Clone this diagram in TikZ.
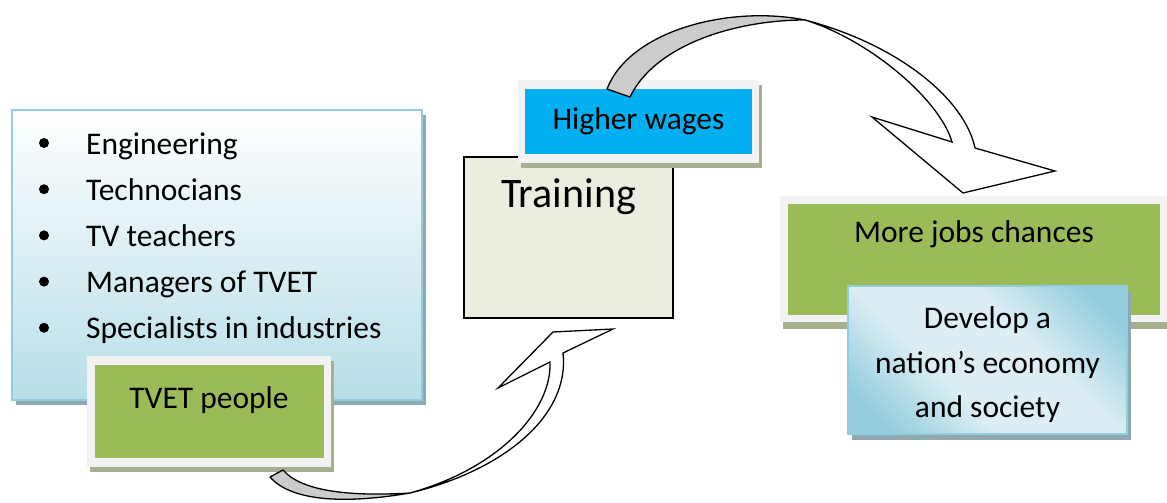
\documentclass[tikz,border=0pt]{standalone}
\usepackage{fontspec}
\setmainfont{Carlito}
\usetikzlibrary{positioning}
\usetikzlibrary{calc}
\usetikzlibrary{shadows}

\definecolor{listborder}{HTML}{93CDDD}
\definecolor{listbottom}{HTML}{B7DEE8}
\definecolor{listshadow}{HTML}{8FA9B2}
\definecolor{olivegreen}{HTML}{9BBB59}
\definecolor{framegray}{HTML}{F2F2F2}
\definecolor{oliveshadow}{HTML}{A6AF90}
\definecolor{wageblue}{HTML}{00B0F0}
\definecolor{trainfill}{HTML}{EBEEDE}
\definecolor{devdark}{HTML}{93CDDD}
\definecolor{devlight}{HTML}{DCEEF4}
\definecolor{arrowgray}{HTML}{CCCCCC}

\pgfdeclarehorizontalshading{devshade}{100bp}{color(0bp)=(devdark); color(22bp)=(devdark); color(40bp)=(devlight); color(60bp)=(devlight); color(78bp)=(devdark); color(100bp)=(devdark)}

\tikzset{
    % Plain text everywhere, no padding round it
    every node/.style={font=\fontsize{31.5}{46}\selectfont, inner sep=0},
%
    % The pale blue panel holding the list
    list box/.style={
        draw=listborder, line width=2pt, top color=white, bottom color=listbottom,
        drop shadow={shadow xshift=4pt, shadow yshift=-5pt, fill=listshadow, opacity=1}},
    list dot/.style={circle, fill=black, minimum size=10},
%
    % Light frame round the coloured boxes
    frame box/.style={
        fill=framegray,
        drop shadow={shadow xshift=3pt, shadow yshift=-5pt, fill=oliveshadow, opacity=1}},
    green box/.style={fill=olivegreen},
    wage box/.style={fill=wageblue},
    train box/.style={draw=black, line width=1.5pt, fill=trainfill},
    develop box/.style={
        draw=listborder, line width=2pt, shading=devshade, shading angle=45,
        drop shadow={shadow xshift=4pt, shadow yshift=-6pt, fill=listshadow, opacity=1}},
%
    % The twisted block arrows
    arrow back/.style={draw=black, line width=1.3pt, fill=arrowgray, line join=round},
    arrow front/.style={draw=black, line width=1.3pt, fill=white, line join=miter}}

\begin{document}
\begin{tikzpicture}[x=1pt, y=-1pt]

\useasboundingbox (0,0) rectangle (1167,503);

% List of people
\node [list box, minimum width=410, minimum height=290] (list) at (217,255) {};

\foreach \entry [count=\i] in {Engineering, Technocians, TV teachers,
        Managers of TVET, Specialists in industries}
{
    \node [anchor=base west] (item\i) at (86, {154+46.2*(\i-1)}) {\entry};
    \node [list dot] (dot\i) at (44, {143+46.2*(\i-1)}) {};
}

\node [frame box, minimum width=244, minimum height=111] (tvet frame) at (209,411.5) {};
\node [green box, minimum width=229, text height=43, text depth=50] (tvet)
    at (tvet frame) {TVET people};

% Training and wages
\node [train box, minimum width=209, text height=50, text depth=111,
    font=\fontsize{42}{50}\selectfont] (training) at (568.5,237.5) {Training};

\node [frame box, minimum width=241, minimum height=83] (wage frame) at (638.5,121.5) {};
\node [wage box, minimum width=227, text height=40, text depth=25] (wages)
    at (wage frame) {Higher wages};

% Outcomes
\node [frame box, minimum width=388, minimum height=126,
    drop shadow={shadow xshift=3pt, shadow yshift=-7pt, fill=oliveshadow, opacity=1}]
    (jobs frame) at (974,259) {};
\node [green box, minimum width=372, text height=39, text depth=72] (jobs)
    at (jobs frame) {More jobs chances};

\node [develop box, minimum width=279, minimum height=148] (develop) at (987.5,360) {};
\node [align=center, font=\fontsize{31.5}{44.5}\selectfont] (develop text)
    at ([yshift=-5pt]develop.center) {Develop a\\nation’s economy\\and society};

% Arrow from wages to jobs
\coordinate (up tail a) at (607,89);
\coordinate (up tail b) at (630,97);
\coordinate (up twist) at (805,20);
\coordinate (up notch in) at (952,142);
\coordinate (up notch out) at (975,148);
\coordinate (up barb l) at (872,117);
\coordinate (up tip) at (963,193);
\coordinate (up barb r) at (1055,171);

\path [arrow back] (up tail a) .. controls (630,30) and (730,5) .. (up twist)
    .. controls (735,20) and (655,45) .. (up tail b) -- cycle;
\path [arrow front] (up twist) .. controls (900,45) and (965,100) .. (up notch out)
    -- (up barb r) -- (up tip) -- (up barb l) -- (up notch in)
    .. controls (940,100) and (870,40) .. (up twist) -- cycle;

% Arrow from people to training
\coordinate (low tail a) at (270,477);
\coordinate (low tail b) at (283,470);
\coordinate (low twist) at (410,493);
\coordinate (low notch in) at (550,362);
\coordinate (low notch out) at (563,353);
\coordinate (low barb l) at (498,388);
\coordinate (low corner) at (553,332);
\coordinate (low barb r) at (613,329);

\path [arrow back] (low tail a) .. controls (290,500) and (340,505) .. (low twist)
    .. controls (345,497) and (300,490) .. (low tail b) -- cycle;
\path [arrow front] (low twist) .. controls (505,470) and (570,415) .. (low notch out)
    -- (low barb r) -- (low corner) -- (low barb l) -- (low notch in)
    .. controls (552,410) and (500,468) .. (low twist) -- cycle;

\end{tikzpicture}
\end{document}
